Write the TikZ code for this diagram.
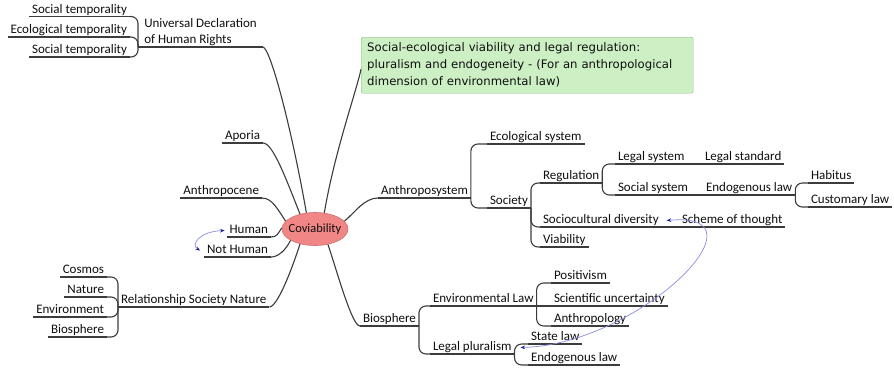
\documentclass[tikz,border=0pt]{standalone}
\usepackage{fontspec}
\setmainfont{Carlito}
\newfontfamily\titlefont{DejaVu Sans}
\usetikzlibrary{arrows.meta,shapes.geometric}

\definecolor{linec}{RGB}{60,60,60}
\definecolor{textc}{RGB}{15,15,15}
\definecolor{covfill}{RGB}{240,134,134}
\definecolor{covdraw}{RGB}{214,112,112}
\definecolor{titlefill}{RGB}{204,240,196}
\definecolor{titledraw}{RGB}{140,180,134}
\definecolor{relline}{RGB}{140,140,228}
\definecolor{arrowc}{RGB}{30,30,160}

\begin{document}
\begin{tikzpicture}[x=1pt,y=-1pt,
  topic/.style={font=\fontsize{13}{15.6}\selectfont, text=textc, inner xsep=3pt,
    inner ysep=0pt, text height=9.5pt, text depth=3.5pt, outer sep=0pt},
  rtopic/.style={topic, anchor=south west},
  ltopic/.style={topic, anchor=south east},
  link/.style={draw=linec, line width=1.1pt},
  brace/.style={link, rounded corners=7pt},
  rel/.style={draw=relline, line width=0.7pt,
    {Stealth[length=4.5pt,width=3.6pt,color=arrowc]}-{Stealth[length=4.5pt,width=3.6pt,color=arrowc]}},
  covshape/.style={ellipse, draw=covdraw, fill=covfill, line width=0.6pt,
    minimum width=66pt, minimum height=33pt, inner sep=0pt},
  covtext/.style={font=\fontsize{12.5}{15}\selectfont, text=textc, inner sep=0pt},
  titlebox/.style={anchor=north west, draw=titledraw, fill=titlefill, rounded corners=2pt,
    font=\titlefont\fontsize{11.7}{17}\selectfont, text=textc, align=left,
    text width=320pt, inner xsep=6pt, minimum height=56pt},
]
\fill[white] (0,0) rectangle (894,370);
\useasboundingbox (0,0) rectangle (894,370);

% central topic and title
\node[covshape] (cov) at (315,229) {};
\node[covtext] (covlabel) at (cov.center) {Coviability};
\node[titlebox] (title) at (361,37) {Social-ecological viability and legal regulation:\\
  pluralism and endogeneity - (For an anthropological\\
  dimension of environmental law)};

% left branches
\node[rtopic, align=left, text height=, minimum width=125pt] (udhr) at (138,47)
  {Universal Declaration\\of Human Rights};
\node[ltopic] (st1) at (130,16.5) {Social temporality};
\node[ltopic] (ecot) at (130,37) {Ecological temporality};
\node[ltopic] (st2) at (130,57) {Social temporality};
\node[ltopic] (aporia) at (263,143) {Aporia};
\node[ltopic] (anthropocene) at (262,198) {Anthropocene};
\node[ltopic] (human) at (271,237) {Human};
\node[ltopic] (nothuman) at (271,257) {Not Human};
\node[rtopic] (rsn) at (118,307) {Relationship Society Nature};
\node[ltopic] (cosmos) at (107,277) {Cosmos};
\node[ltopic] (nature) at (107,297) {Nature};
\node[ltopic] (environment) at (107,317) {Environment};
\node[ltopic] (biosph2) at (107,337) {Biosphere};

% right branches
\node[rtopic] (anthro) at (378,198) {Anthroposystem};
\node[rtopic] (eco) at (487,144) {Ecological system};
\node[rtopic] (society) at (487,208) {Society};
\node[rtopic] (regulation) at (540,183) {Regulation};
\node[rtopic] (legalsys) at (615,164) {Legal system};
\node[rtopic] (legalstd) at (702,164) {Legal standard};
\node[rtopic] (socialsys) at (615,195) {Social system};
\node[rtopic] (endolaw) at (703,195) {Endogenous law};
\node[rtopic] (habitus) at (808,183) {Habitus};
\node[rtopic] (customary) at (808,207) {Customary law};
\node[rtopic] (sd) at (540,227) {Sociocultural diversity};
\node[rtopic] (scheme) at (679,227) {Scheme of thought};
\node[rtopic] (viability) at (540,247) {Viability};
\node[rtopic] (biosph) at (360,326) {Biosphere};
\node[rtopic] (envlaw) at (430,306) {Environmental Law};
\node[rtopic] (positivism) at (551,283) {Positivism};
\node[rtopic] (sciunc) at (551,306) {Scientific uncertainty};
\node[rtopic] (anthropology) at (551,326) {Anthropology};
\node[rtopic] (legpl) at (430,354) {Legal pluralism};
\node[rtopic] (statelaw) at (528,344) {State law};
\node[rtopic] (endolaw2) at (528,365) {Endogenous law};

% underlines of the topics
\foreach \n in {udhr,st1,ecot,st2,aporia,anthropocene,human,nothuman,rsn,cosmos,nature,
  environment,biosph2,anthro,eco,society,regulation,legalsys,legalstd,socialsys,endolaw,
  habitus,customary,sd,scheme,viability,biosph,envlaw,positivism,sciunc,anthropology,
  legpl,statelaw,endolaw2}
  \draw[link] (\n.south west) -- (\n.south east);

% connectors from the central topic
\draw[link] (cov.118) .. controls +(-14,-80) and +(8,2) .. (udhr.south east);
\draw[link] (cov.60) .. controls +(10,-60) and +(-4,20) .. ([yshift=-4pt]title.west);
\draw[link] (cov.135) .. controls +(-14,-35) and +(10,0) .. (aporia.south east);
\draw[link] (cov.165) .. controls +(-8,-12) and +(10,0) .. (anthropocene.south east);
\draw[link] (cov.178) .. controls +(-4,6) and +(6,0) .. (human.south east);
\draw[link] (cov.205) .. controls +(-5,10) and +(7,0) .. (nothuman.south east);
\draw[link] (cov.225) .. controls +(-8,25) and +(8,0) .. (rsn.south east);
\draw[link] (cov.310) .. controls +(10,30) and +(-8,0) .. (biosph.south west);
\draw[link] (cov.15) .. controls +(10,-8) and +(-14,0) .. (anthro.south west);

% sub-topic braces
\foreach \c in {st1,ecot,st2} \draw[brace] (udhr.south west) |- (\c.south east);
\foreach \c in {cosmos,nature,environment,biosph2} \draw[brace] (rsn.south west) |- (\c.south east);
\foreach \c in {eco,society} \draw[brace] (anthro.south east) |- (\c.south west);
\foreach \c in {regulation,sd,viability} \draw[brace] (society.south east) |- (\c.south west);
\foreach \c in {legalsys,socialsys} \draw[brace] (regulation.south east) |- (\c.south west);
\foreach \c in {habitus,customary} \draw[brace] (endolaw.south east) |- (\c.south west);
\foreach \c in {envlaw,legpl} \draw[brace] (biosph.south east) |- (\c.south west);
\foreach \c in {positivism,anthropology} \draw[brace] (envlaw.south east) |- (\c.south west);
\foreach \c in {statelaw,endolaw2} \draw[brace] (legpl.south east) |- (\c.south west);
\draw[link] (legalsys.south east) -- (legalstd.south west);
\draw[link] (socialsys.south east) -- (endolaw.south west);
\draw[link] (sd.south east) -- (scheme.south west);
\draw[link] (envlaw.south east) -- (sciunc.south west);

% relationships
\draw[rel] ([xshift=-4pt]nothuman.west) .. controls +(-10,-6) and +(-25,1) .. ([xshift=-2pt]human.west);
\draw[rel] ([xshift=5pt]sd.east) .. controls +(107,-10) and +(119,-3) .. ([xshift=6pt]legpl.east);
\end{tikzpicture}
\end{document}
